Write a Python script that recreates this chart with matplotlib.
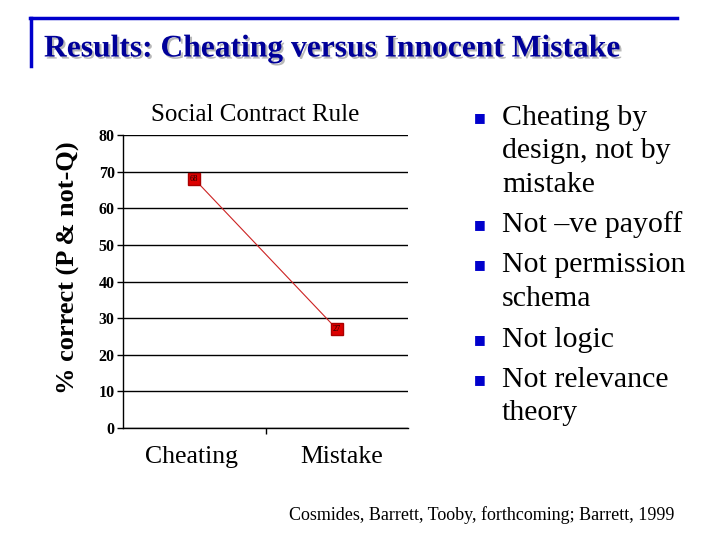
import matplotlib.pyplot as plt
import matplotlib.patheffects as pe

# chart data
conditions = ['Cheating', 'Mistake']
pct_correct = [68, 27]
y_ticks = [0, 10, 20, 30, 40, 50, 60, 70, 80]

# slide text
slide_title = 'Results: Cheating versus Innocent Mistake'
bullet_points = [
    ['Cheating by', 'design, not by', 'mistake'],
    ['Not \u2013ve payoff'],
    ['Not permission', 'schema'],
    ['Not logic'],
    ['Not relevance', 'theory'],
]
citation = 'Cosmides, Barrett, Tooby, forthcoming; Barrett, 1999'

plt.rcParams['font.family'] = ['Liberation Serif', 'DejaVu Serif']

W, H = 720, 540
fig = plt.figure(figsize=(7.2, 5.4), dpi=100)


def px(x, y):
    # pixel coords (from top-left) to figure fraction
    return x / W, 1 - y / H


# blue frame of the slide title
fig.add_artist(plt.Line2D([30 / W, 677 / W], [1 - 18 / H, 1 - 18 / H],
                          color='#0000cc', lw=2.5))
fig.add_artist(plt.Line2D([31 / W, 31 / W], [1 - 18 / H, 1 - 66 / H],
                          color='#0000cc', lw=2.5))

t = fig.text(*px(44, 49), slide_title, fontsize=22.7, fontweight='bold',
             color='#000099', va='center', ha='left')
t.set_path_effects([pe.withSimplePatchShadow(offset=(1.5, -1.5),
                                             shadow_rgbFace='#b8b8b8', alpha=1)])

# chart
ax = fig.add_axes([123 / W, 1 - 428 / H, 285 / W, 293 / H])
x = list(range(len(conditions)))
ax.plot(x, pct_correct, color='#cc2222', lw=0.8, marker='s', markersize=8.5,
        markerfacecolor='#dd0000', markeredgecolor='#aa0000')
for xi, v in zip(x, pct_correct):
    ax.text(xi, v, str(v), fontsize=6, ha='center', va='center',
            color='#220000')

ax.set_xlim(-0.5, 1.5)
ax.set_ylim(0, 80)
ax.set_yticks(y_ticks)
ax.set_yticklabels([str(v) for v in y_ticks], fontweight='bold', fontsize=11.5)
ax.set_xticks([0.5])
ax.set_xticklabels([''])
ax.tick_params(axis='y', length=4, width=1, pad=2)
ax.tick_params(axis='x', length=4, width=1)
ax.grid(axis='y', color='black', lw=1)
ax.set_axisbelow(True)
for side in ['top', 'right']:
    ax.spines[side].set_visible(False)
for side in ['left', 'bottom']:
    ax.spines[side].set_linewidth(1)

# category labels below the axis
for xpix, name in zip([192, 342], conditions):
    fig.text(*px(xpix, 457), name, fontsize=18.5, ha='center', va='center')

fig.text(*px(255, 115), 'Social Contract Rule', fontsize=18,
         ha='center', va='center')
fig.text(*px(68, 268), '% correct (P & not-Q)', fontsize=19,
         fontweight='bold', rotation=90, ha='center', va='center')

# bullet list
bullet_y = [118, 225, 265, 340, 380]
line_step = 33.5
for yb, item in zip(bullet_y, bullet_points):
    fig.text(*px(480, yb), '\u25a0', fontsize=9, color='#0000cc',
             ha='center', va='center', family='DejaVu Sans')
    for i, line in enumerate(item):
        fig.text(*px(502, yb + i * line_step), line, fontsize=21.5,
                 ha='left', va='center')

fig.text(*px(289, 515), citation, fontsize=13, ha='left', va='center')

fig.savefig('out.png', dpi=100)
